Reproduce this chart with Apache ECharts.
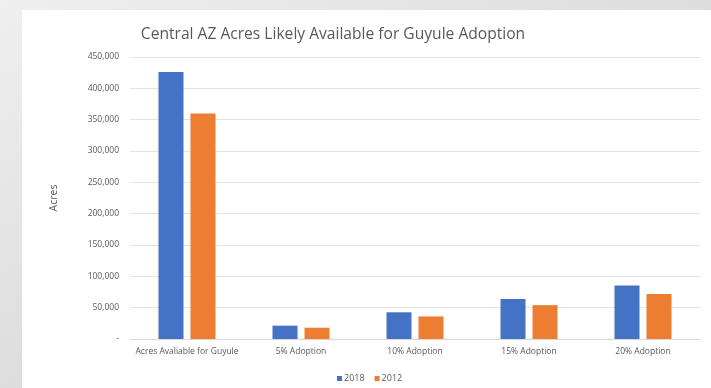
<!DOCTYPE html>
<html>
<head>
<meta charset="utf-8">
<script src="https://cdn.jsdelivr.net/npm/echarts@6/dist/echarts.min.js"></script>
<style>
  html, body { margin: 0; padding: 0; background: #e6e6e6; }
  #chart { width: 711px; height: 388px; }
</style>
</head>
<body>
<div id="chart"></div>
<script>
// Acreage estimates by adoption scenario
const categories = ['Acres Avaliable for Guyule', '5% Adoption', '10% Adoption', '15% Adoption', '20% Adoption'];
const acres2018 = [426000, 21300, 42600, 63900, 85200];
const acres2012 = [360000, 18000, 36000, 54000, 72000];
const yTicks = { min: 0, max: 450000, interval: 50000 };

const textColor = '#595959';
const fontFamily = '"Open Sans", "DejaVu Sans", sans-serif';

const chart = echarts.init(document.getElementById('chart'));
chart.setOption({
  backgroundColor: {
    type: 'linear', x: 0, y: 0, x2: 0.3, y2: 1,
    colorStops: [{ offset: 0, color: '#efefef' }, { offset: 1, color: '#d8d8d8' }]
  },
  textStyle: { fontFamily: fontFamily },
  graphic: [{
    type: 'rect',
    z: -1,
    shape: { x: 22, y: 10, width: 711 - 22, height: 388 - 10 },
    style: { fill: '#ffffff' }
  }],
  title: {
    text: 'Central AZ Acres Likely Available for Guyule Adoption',
    left: 328, top: 22, textAlign: 'center',
    textStyle: { fontSize: 15.6, fontWeight: 'normal', color: textColor, fontFamily: fontFamily }
  },
  legend: {
    bottom: 0, left: 332,
    itemWidth: 5, itemHeight: 5, itemGap: 10,
    icon: 'rect',
    textStyle: { fontSize: 9, color: textColor, padding: [0, 0, 0, -3] },
    data: ['2018', '2012']
  },
  grid: { left: 130, right: 11, top: 57, bottom: 49 },
  xAxis: {
    type: 'category',
    data: categories,
    axisLine: { lineStyle: { color: '#d9d9d9' } },
    axisTick: { show: false },
    axisLabel: { fontSize: 8.5, color: textColor, margin: 8, interval: 0 }
  },
  yAxis: {
    type: 'value',
    min: yTicks.min, max: yTicks.max, interval: yTicks.interval,
    name: 'Acres',
    nameLocation: 'middle',
    nameGap: 70,
    nameTextStyle: { fontSize: 10.5, color: textColor },
    axisLine: { show: false },
    axisTick: { show: false },
    splitLine: { lineStyle: { color: '#e3e3e3' } },
    axisLabel: {
      fontSize: 8.5, color: textColor, margin: 11,
      formatter: v => v === 0 ? '-' : v.toLocaleString('en-US')
    }
  },
  series: [
    { name: '2018', type: 'bar', data: acres2018, barWidth: 25, barGap: '28%',
      itemStyle: { color: '#4472C4' } },
    { name: '2012', type: 'bar', data: acres2012, barWidth: 25,
      itemStyle: { color: '#ED7D31' } }
  ]
});
</script>
</body>
</html>
